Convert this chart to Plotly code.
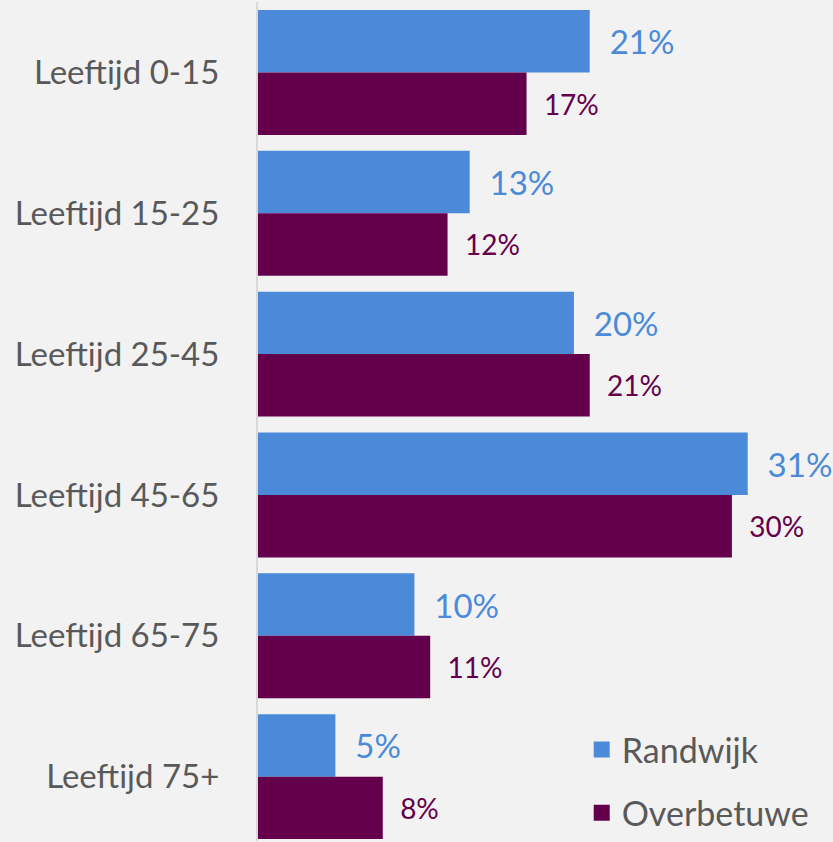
import plotly.graph_objects as go

# data
categories = ["Leeftijd 0-15", "Leeftijd 15-25", "Leeftijd 25-45",
              "Leeftijd 45-65", "Leeftijd 65-75", "Leeftijd 75+"]
randwijk = [21, 13.4, 20, 31, 9.9, 4.9]
overbetuwe = [17, 12, 21, 30, 10.9, 7.9]

blue = "#4A8AD8"
purple = "#64004B"
grey_text = "#595959"
font_family = "Lato"

fig = go.Figure()

# bars
fig.add_trace(go.Bar(
    y=categories, x=randwijk, orientation="h", name="Randwijk",
    marker=dict(color=blue, line=dict(width=0)),
    texttemplate="\u00a0\u00a0%{x:.0f}%", textposition="outside",
    textfont=dict(color=blue, size=33, family=font_family),
    cliponaxis=False, showlegend=False,
))
fig.add_trace(go.Bar(
    y=categories, x=overbetuwe, orientation="h", name="Overbetuwe",
    marker=dict(color=purple, line=dict(width=0)),
    texttemplate="\u00a0\u00a0%{x:.0f}%", textposition="outside",
    textfont=dict(color=purple, size=28, family=font_family),
    cliponaxis=False, showlegend=False,
))

# legend entries with square markers
for name, col, grp in [("Randwijk", blue, "a"), ("Overbetuwe", purple, "b")]:
    fig.add_trace(go.Scatter(
        x=[None], y=[None], mode="markers", name=name, legendgroup=grp,
        marker=dict(symbol="square", size=21, color=col),
    ))

fig.update_layout(
    width=833, height=842,
    margin=dict(l=258, r=0, t=2, b=0),
    paper_bgcolor="#F2F2F2", plot_bgcolor="#F2F2F2",
    barmode="group", bargap=0.113, bargroupgap=0,
    font=dict(family=font_family, color=grey_text),
    legend=dict(
        x=0.563, y=0.143, xanchor="left", yanchor="top",
        font=dict(size=34, color=grey_text, family=font_family),
        bgcolor="rgba(0,0,0,0)", tracegroupgap=16,
    ),
)

fig.update_xaxes(range=[0, 36.4], visible=False)
fig.update_yaxes(
    categoryorder="array", categoryarray=categories,
    range=[5.457, -0.5],
    showline=True, linecolor="#D9D9D9", linewidth=2,
    showgrid=False, zeroline=False,
    tickfont=dict(size=33, color=grey_text, family=font_family),
    ticklabelstandoff=30,
)

# drop the browser's default page margin so the figure sits at (0, 0)
fig.write_html("out.html", config={"displayModeBar": False},
               post_script="document.body.style.margin='0';")
